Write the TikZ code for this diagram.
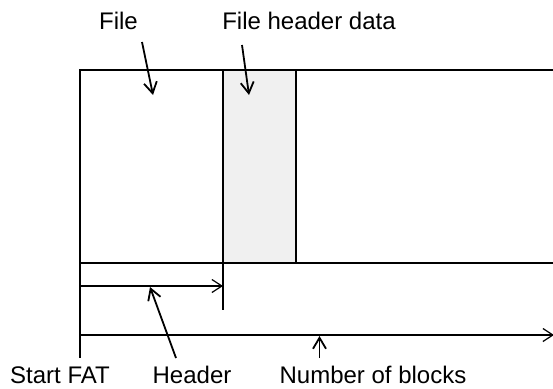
\documentclass[tikz,border=0pt]{standalone}
\usepackage{fontspec}
\setmainfont{Liberation Sans}
\usetikzlibrary{arrows.meta}
\definecolor{headerfill}{HTML}{F0F0F0}
\tikzset{
  blockline/.style={line width=2.5pt},
  tickline/.style={line width=1.5pt},
  dimline/.style={line width=1.2pt, -{Straight Barb[length=10pt,width=13pt]}},
  pointer/.style={line width=1.8pt, -{Straight Barb[length=11pt,width=13pt]}},
  caption/.style={anchor=base, inner sep=0pt},
}
\begin{document}
\begin{tikzpicture}[x=1pt, y=-1pt, font=\fontsize{24}{28}\selectfont]
\useasboundingbox (0,0) rectangle (553,388);

% block layout: file area, header data area, rest of the blocks
\coordinate (tl) at (80,70);
\coordinate (bl) at (80,263);
\coordinate (hdtop) at (223,70);
\coordinate (hdbot) at (223,263);
\coordinate (hetop) at (296,70);
\coordinate (hebot) at (296,263);
\coordinate (tr) at (560,70);
\coordinate (br) at (560,263);

\fill[headerfill] (hdtop) rectangle (hebot);
\draw[blockline] (tr) -- (tl) -- (bl) -- (br);
\draw[blockline] (hdtop) -- (hdbot);
\draw[blockline] (hetop) -- (hebot);

% extension ticks
\coordinate (startend) at (80,358);
\coordinate (hdtick) at (223,310);
\draw[tickline] (bl) -- (startend);
\draw[line width=1.2pt] (hdbot) -- (hdtick);

% dimension arrows
\coordinate (hdimA) at (80,286);
\coordinate (hdimB) at (223,286);
\coordinate (ndimA) at (80,335);
\coordinate (ndimB) at (554,335);
\draw[dimline] (hdimA) -- (hdimB);
\draw[dimline] (ndimA) -- (ndimB);

% captions
\node[caption] (file) at (118.5,29) {File};
\node[caption] (fhd) at (309,29) {File header data};
\node[caption] (start) at (60,383) {Start FAT};
\node[caption] (header) at (192,383) {Header};
\node[caption] (nblocks) at (373,383) {Number of blocks};

% pointers from captions
\coordinate (fileA) at (142,42);
\coordinate (fileB) at (153,95);
\coordinate (fhdA) at (242,45);
\coordinate (fhdB) at (249,95);
\coordinate (headA) at (176,358);
\coordinate (headB) at (150,287);
\coordinate (nbA) at (319.5,358);
\coordinate (nbB) at (319.5,336);
\draw[pointer] (fileA) -- (fileB);
\draw[pointer] (fhdA) -- (fhdB);
\draw[pointer] (headA) -- (headB);
\draw[pointer] (nbA) -- (nbB);
\end{tikzpicture}
\end{document}
